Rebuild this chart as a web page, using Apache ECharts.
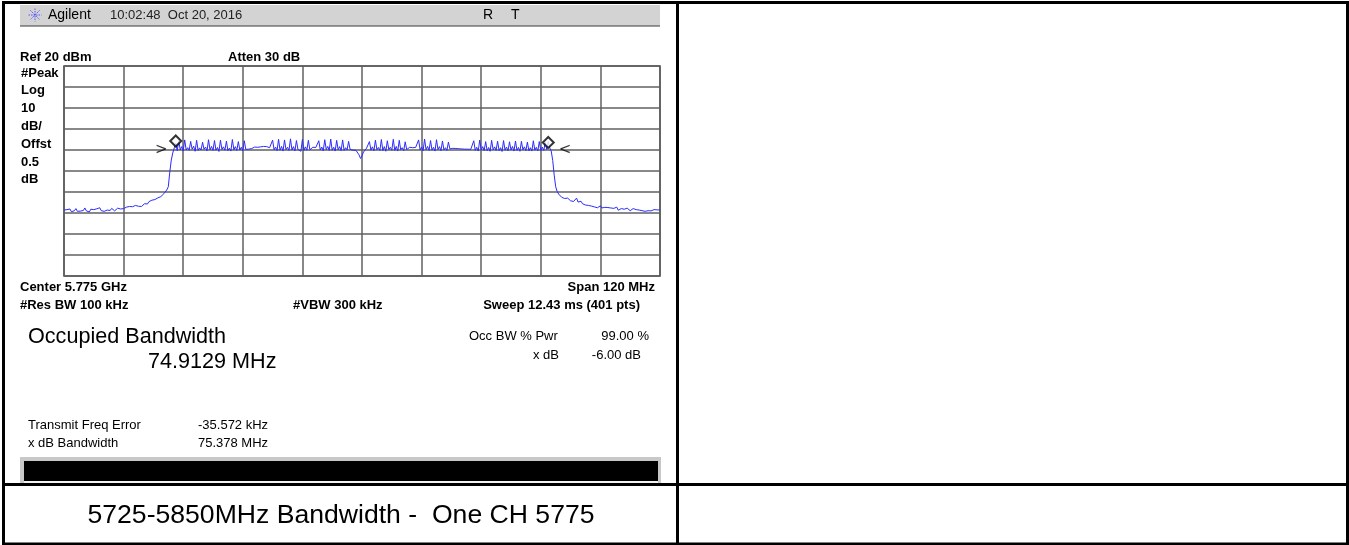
<!DOCTYPE html>
<html>
<head>
<meta charset="utf-8">
<script src="https://cdn.jsdelivr.net/npm/echarts@6/dist/echarts.min.js"></script>
<style>
  html, body { margin: 0; padding: 0; background: #ffffff; }
  #chart { width: 1349px; height: 545px; }
</style>
</head>
<body>
<div id="chart"></div>
<script>
// ---- Sweep definition ----
const CENTER_MHZ = 5775;
const SPAN_MHZ = 120;
const SWEEP_POINTS = 401;
const REF_DBM = 20;
const DB_PER_DIV = 10;

// ---- Trace values (dBm), 401 points ----
const traceDbm = [
  // 0-39 noise floor
  -48.6,-49.3,-48.4,-49.0,-48.1,-49.4,-48.7,-48.9,-47.9,-49.2,-48.5,-49.1,-48.3,-48.8,-47.6,-49.0,-48.6,-49.5,-48.2,-48.9,
  -48.4,-49.1,-48.0,-48.7,-47.5,-48.9,-48.3,-49.2,-49.4,-48.6,-48.0,-48.8,-47.8,-48.5,-49.0,-48.2,-47.7,-48.6,-48.1,-48.8,
  // 40-75 left skirt
  -47.9,-48.3,-47.2,-47.8,-46.9,-47.5,-47.0,-47.6,-46.4,-47.2,-46.8,-46.2,-46.9,-46.0,
  -45.6,-45.0,-45.7,-44.6,-44.9,-43.9,-44.5,-43.6,-43.9,-42.8,-43.1,
  -42.2,-41.5,-40.8,-40.1,-39.0,
  -37.5,-30.5,-24.8,-21.4,-19.0,-16.8,
  // 76-127 ripple
  -20.3,-15.6,-19.9,-18.4, -20.5,-15.2,-20.0,-18.9, -20.1,-15.9,-19.6,-18.2, -20.6,-15.4,-20.2,-19.0,
  -20.0,-16.3,-19.7,-18.6, -20.4,-15.1,-19.9,-18.3, -20.2,-15.5,-20.1,-18.8, -20.7,-15.3,-19.8,-18.5,
  -20.1,-15.8,-20.3,-19.1, -20.5,-15.0,-19.9,-18.4, -20.2,-16.0,-20.0,-18.7, -20.4,-15.6,-19.7,-19.2,
  -19.6,-18.9,-19.3,-18.8,
  // 128-139 flat
  -18.6,-18.4,-18.7,-18.9,-18.5,-18.6,-18.3,-18.7,-18.4,-18.6,-18.9,-19.4,
  // 140-166 ripple
  -15.3,-19.9,-18.6,-20.3, -14.9,-20.1,-18.3,-20.5, -15.2,-19.8,-18.7,-20.2, -14.7,-20.0,-18.4,-20.4,
  -15.5,-19.7,-18.8,-20.6, -15.0,-20.2,-18.5,-20.1, -15.4,-19.9,-19.0,
  // 167-170 flat
  -18.7,-18.5,-18.8,-19.6,
  // 171-195 ripple
  -15.6,-20.0,-18.6,-20.4, -15.1,-19.8,-18.3,-20.2, -14.8,-20.1,-18.7,-20.5, -15.4,-19.9,-18.4,-20.3,
  -15.2,-20.2,-18.9,-20.0, -15.9,-19.7,-19.4,-20.1, -19.8,
  // 196-204 centre dip
  -20.2,-20.6,-22.3,-24.0,-22.8,-21.0,-20.1,-19.2,-19.6,
  // 205-231 ripple
  -16.0,-20.1,-18.5,-20.4, -15.3,-19.9,-18.8,-20.2, -15.0,-20.3,-18.4,-20.6, -15.6,-19.8,-18.7,-20.1,
  -14.9,-20.2,-18.3,-20.5, -15.4,-19.9,-18.9,-20.3, -16.1,-19.8,-19.2,
  // 232-237 flat
  -18.7,-18.5,-18.9,-18.6,-18.8,-19.5,
  // 238-259 ripple
  -15.2,-20.0,-18.6,-20.4, -14.8,-19.9,-18.3,-20.2, -15.5,-20.1,-18.7,-20.5, -15.1,-19.8,-18.4,-20.3,
  -15.7,-20.0,-18.9,-20.2, -16.2,-19.5,
  // 260-274 flat
  -19.0,-19.2,-19.1,-19.3,-19.2,-19.4,-19.3,-19.5,-19.4,-19.6,-19.5,-19.6,-19.4,-19.7,-19.3,
  // 275-324 ripple
  -15.6,-20.2,-18.7,-20.5, -15.3,-20.0,-18.4,-20.3, -16.0,-20.4,-18.8,-20.6, -15.4,-19.9,-18.5,-20.2,
  -15.8,-20.3,-18.9,-20.7, -15.5,-20.1,-18.6,-20.4, -16.1,-20.0,-18.3,-20.5, -15.7,-20.2,-18.8,-20.6,
  -15.9,-19.9,-18.5,-20.3, -16.2,-20.4,-18.9,-20.5, -15.6,-20.1,-18.7,-20.4, -16.0,-20.3,-18.6,-20.2,
  -16.4,-19.8,
  // 325-326
  -16.0,-19.0,
  // 327-400 right skirt and noise floor
  -20.5,-25.0,-32.0,-37.5,-39.8,-41.0,-41.9,-42.5,-42.2,-43.1,-43.5,-42.9,-43.8,-44.2,-43.6,-44.5,-44.0,-42.9,-44.8,-45.1,
  -44.4,-45.6,-45.0,-46.2,-45.5,-46.4,-46.0,-46.7,-46.3,-47.1,-46.8,-47.5,-47.0,-46.6,-47.6,-47.9,-47.3,-48.2,-47.4,-48.0,
  -47.6,-48.5,-47.8,-48.3,-47.2,-48.7,-48.1,-47.9,-48.6,-48.2,-49.0,-47.7,-48.5,-48.9,-48.3,-47.9,-48.8,-48.4,-49.1,-48.6,
  -48.0,-48.9,-48.5,-49.2,-48.7,-48.9,-48.3,-49.0,-48.6,-48.4,-47.6,-48.5,-48.2,-48.6
];

// ---- Occupied-bandwidth markers (MHz, dBm) ----
const obwMarkerFreq = [5737.5, 5812.5];
const obwMarkerDbm = [-15.7, -16.4];
const arrowFreq = [5734.6, 5815.9];
const arrowDbm = [-20, -20];
const arrowText = ['>', '<'];

// ---- Texts ----
const headerTexts = { brand: 'Agilent', time: '10:02:48  Oct 20, 2016', r: 'R', t: 'T' };
const leftLabels = ['#Peak', 'Log', '10', 'dB/', 'Offst', '0.5', 'dB'];
const caption = '5725-5850MHz Bandwidth -  One CH 5775';

// ---- build series data via the axes ----
const startMHz = CENTER_MHZ - SPAN_MHZ / 2;
const stepMHz = SPAN_MHZ / (SWEEP_POINTS - 1);
const traceData = traceDbm.map((v, i) => [startMHz + i * stepMHz - CENTER_MHZ, v]);
const markerData = obwMarkerFreq.map((f, i) => [f - CENTER_MHZ, obwMarkerDbm[i]]);
const arrowData = arrowFreq.map((f, i) => ({ value: [f - CENTER_MHZ, arrowDbm[i]], label: { formatter: arrowText[i] } }));

const FONT = '"Liberation Sans", Arial, sans-serif';
function txt(text, x, y, size, opts) {
  opts = opts || {};
  return {
    type: 'text', silent: true, z: 10,
    style: {
      text: text, x: x, y: y,
      font: (opts.bold ? 'bold ' : '') + size + 'px ' + FONT,
      fill: opts.fill || '#000',
      textAlign: opts.align || 'left',
      textVerticalAlign: 'middle'
    }
  };
}

const graphics = [];
// header bar
graphics.push({ type: 'rect', silent: true, z: 1, shape: { x: 20, y: 5, width: 640, height: 21 }, style: { fill: '#d3d3d3' } });
graphics.push({ type: 'line', silent: true, z: 2, shape: { x1: 20, y1: 26, x2: 660, y2: 26 }, style: { stroke: '#3a3a3a', lineWidth: 1 } });
// star logo
[0, 45, 90, 135].forEach(function (a) {
  const r = a * Math.PI / 180, cx = 35, cy = 15, R = 6.5;
  graphics.push({ type: 'line', silent: true, z: 3,
    shape: { x1: cx - R * Math.cos(r), y1: cy - R * Math.sin(r), x2: cx + R * Math.cos(r), y2: cy + R * Math.sin(r) },
    style: { stroke: '#5b5bff', lineWidth: 1, lineDash: [1.5, 1] } });
});
graphics.push(txt(headerTexts.brand, 48, 15, 14));
graphics.push(txt(headerTexts.time, 110, 15, 13, { fill: '#222' }));
graphics.push(txt(headerTexts.r, 483, 15, 14));
graphics.push(txt(headerTexts.t, 511, 15, 14));

graphics.push(txt('Ref 20 dBm', 20, 57, 13, { bold: true }));
graphics.push(txt('Atten 30 dB', 228, 57, 13, { bold: true }));
leftLabels.forEach(function (s, i) { graphics.push(txt(s, 21, 73 + i * 17.8, 13, { bold: true })); });

graphics.push(txt('Center 5.775 GHz', 20, 287, 13, { bold: true }));
graphics.push(txt('Span 120 MHz', 655, 287, 13, { bold: true, align: 'right' }));
graphics.push(txt('#Res BW 100 kHz', 20, 305, 13, { bold: true }));
graphics.push(txt('#VBW 300 kHz', 293, 305, 13, { bold: true }));
graphics.push(txt('Sweep 12.43 ms (401 pts)', 640, 305, 13, { bold: true, align: 'right' }));

graphics.push(txt('Occupied Bandwidth', 28, 337, 21.6));
graphics.push(txt('74.9129 MHz', 148, 362, 21.6));
graphics.push(txt('Occ BW % Pwr', 469, 336, 13));
graphics.push(txt('99.00 %', 649, 336, 13, { align: 'right' }));
graphics.push(txt('x dB', 533, 355, 13));
graphics.push(txt('-6.00 dB', 641, 355, 13, { align: 'right' }));

graphics.push(txt('Transmit Freq Error', 28, 425, 13));
graphics.push(txt('-35.572 kHz', 198, 425, 13));
graphics.push(txt('x dB Bandwidth', 28, 443, 13));
graphics.push(txt('75.378 MHz', 198, 443, 13));

// bottom black bar with gray bevel
graphics.push({ type: 'rect', silent: true, z: 1, shape: { x: 20, y: 457, width: 641, height: 26 }, style: { fill: '#c8c8c8' } });
graphics.push({ type: 'rect', silent: true, z: 2, shape: { x: 24, y: 461, width: 634, height: 20 }, style: { fill: '#000' } });
graphics.push({ type: 'line', silent: true, z: 2, shape: { x1: 24, y1: 482, x2: 658, y2: 482 }, style: { stroke: '#fff', lineWidth: 1.5 } });

// table borders
graphics.push({ type: 'rect', silent: true, z: 20, shape: { x: 3.5, y: 2.5, width: 1344, height: 541.5 }, style: { fill: null, stroke: '#000', lineWidth: 3 } });
graphics.push({ type: 'line', silent: true, z: 20, shape: { x1: 677.5, y1: 2, x2: 677.5, y2: 545 }, style: { stroke: '#000', lineWidth: 3 } });
graphics.push({ type: 'line', silent: true, z: 20, shape: { x1: 2, y1: 484.5, x2: 1349, y2: 484.5 }, style: { stroke: '#000', lineWidth: 3 } });

graphics.push(txt(caption, 341, 516, 26.6, { align: 'center' }));

const chart = echarts.init(document.getElementById('chart'), null, { renderer: 'canvas' });
chart.setOption({
  animation: false,
  backgroundColor: '#ffffff',
  grid: { left: 64, top: 66, width: 596, height: 210, show: true, borderColor: '#4a4a4a', borderWidth: 1.5, backgroundColor: 'transparent' },
  xAxis: {
    type: 'value', min: -SPAN_MHZ / 2, max: SPAN_MHZ / 2, interval: SPAN_MHZ / 10,
    axisLine: { show: false }, axisTick: { show: false }, axisLabel: { show: false },
    splitLine: { show: true, lineStyle: { color: '#606060', width: 1.5 } }
  },
  yAxis: {
    type: 'value', min: REF_DBM - 10 * DB_PER_DIV, max: REF_DBM, interval: DB_PER_DIV,
    axisLine: { show: false }, axisTick: { show: false }, axisLabel: { show: false },
    splitLine: { show: true, lineStyle: { color: '#606060', width: 1.5 } }
  },
  graphic: graphics,
  series: [
    {
      type: 'line', data: traceData, showSymbol: false, symbol: 'none', z: 5,
      lineStyle: { color: '#2b2bff', width: 1 }, silent: true
    },
    {
      type: 'scatter', data: markerData, symbol: 'diamond', symbolSize: [11, 11], z: 6,
      itemStyle: { color: '#ffffff', borderColor: '#000', borderWidth: 2 }, silent: true
    },
    {
      type: 'scatter', data: arrowData, symbolSize: 0, z: 6, silent: true,
      label: { show: true, position: 'inside', fontSize: 15, color: '#000', fontFamily: 'DejaVu Sans' }
    }
  ]
});
</script>
</body>
</html>
